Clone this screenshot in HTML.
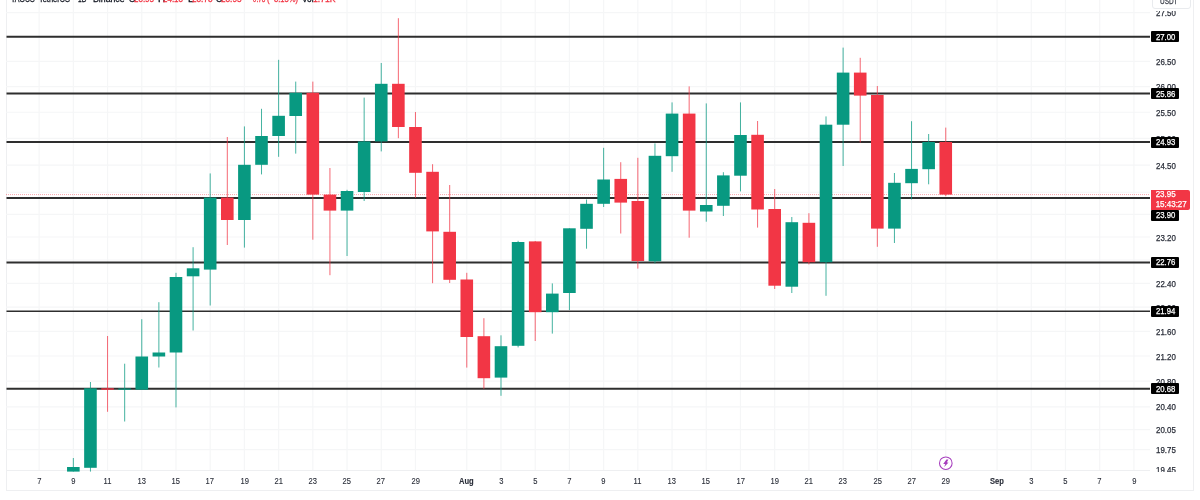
<!DOCTYPE html>
<html><head><meta charset="utf-8">
<style>
html,body{margin:0;padding:0;background:#fff;}
body{width:1200px;height:500px;position:relative;overflow:hidden;font-family:"Liberation Sans",sans-serif;color:#131722;}
#wrap{position:absolute;left:0;top:0;width:1200px;height:500px;will-change:transform;}
#frame{position:absolute;left:6px;top:-10px;width:1188px;height:500.5px;border-left:1px solid #eeeff1;border-right:1px solid #eeeff1;border-bottom:1px solid #eeeff1;box-sizing:border-box;}
#chart{position:absolute;left:0;top:0;}
#taxis{position:absolute;left:6px;top:470.2px;width:1144px;height:1px;background:#eeeff1;}
.pl{position:absolute;left:1156px;width:40px;height:12px;line-height:12px;font-size:8.6px;color:#2a2e39;white-space:nowrap;transform:scaleX(0.92);transform-origin:0 0;-webkit-text-stroke:0.25px currentColor;}
.pb{position:absolute;left:1150.7px;width:28.3px;height:11px;line-height:11px;font-size:8.6px;color:#fff;background:#000;border-radius:1px;white-space:nowrap;}
.pb span{position:absolute;left:5px;top:0.5px;transform:scaleX(0.9);transform-origin:0 0;-webkit-text-stroke:0.25px currentColor;}
#cur{position:absolute;left:1150.7px;top:189.5px;width:39.5px;height:20.2px;background:#f23645;color:#fff;font-size:8.6px;line-height:9.5px;border-radius:0 2px 2px 0;}
#cur div{padding-left:5px;position:relative;top:0.8px;transform:scaleX(0.93);transform-origin:0 0;-webkit-text-stroke:0.25px currentColor;}
#paxclip{position:absolute;left:0;top:0;width:1200px;height:471.6px;overflow:hidden;}
.tl{position:absolute;top:474.5px;width:40px;height:12px;line-height:12px;font-size:8.6px;text-align:center;color:#2a2e39;}
.tl span{display:inline-block;transform:scaleX(0.88);-webkit-text-stroke:0.12px currentColor;}
.tl.b{font-weight:bold;}
#usdt{position:absolute;left:1152.3px;top:-8px;width:38.6px;height:16.5px;border:1px solid #e9ebee;border-radius:3px;background:#fff;box-sizing:border-box;}
#usdt span{position:absolute;left:6.5px;top:2.7px;-webkit-text-stroke:0.25px currentColor;font-size:8.6px;line-height:10px;color:#3a3e48;transform:scaleX(0.75);transform-origin:0 0;}
#umask{position:absolute;left:1150px;top:0;width:43px;height:10.8px;background:#fff;}
.h{position:absolute;top:-5.45px;font-size:9px;line-height:9px;white-space:nowrap;color:#131722;transform-origin:0 0;-webkit-text-stroke:0.3px currentColor;}
.h.r{color:#f23645;}
</style></head><body>
<div id="wrap">
<div id="frame"></div>
<div id="taxis"></div>
<svg id="chart" width="1200" height="472" viewBox="0 0 1200 472">
<line x1="39.13" y1="0" x2="39.13" y2="470" stroke="#f5f6f7" stroke-width="1.2"/>
<line x1="73.34" y1="0" x2="73.34" y2="470" stroke="#f5f6f7" stroke-width="1.2"/>
<line x1="107.56" y1="0" x2="107.56" y2="470" stroke="#f5f6f7" stroke-width="1.2"/>
<line x1="141.77" y1="0" x2="141.77" y2="470" stroke="#f5f6f7" stroke-width="1.2"/>
<line x1="175.98" y1="0" x2="175.98" y2="470" stroke="#f5f6f7" stroke-width="1.2"/>
<line x1="210.19" y1="0" x2="210.19" y2="470" stroke="#f5f6f7" stroke-width="1.2"/>
<line x1="244.40" y1="0" x2="244.40" y2="470" stroke="#f5f6f7" stroke-width="1.2"/>
<line x1="278.62" y1="0" x2="278.62" y2="470" stroke="#f5f6f7" stroke-width="1.2"/>
<line x1="312.83" y1="0" x2="312.83" y2="470" stroke="#f5f6f7" stroke-width="1.2"/>
<line x1="347.04" y1="0" x2="347.04" y2="470" stroke="#f5f6f7" stroke-width="1.2"/>
<line x1="381.25" y1="0" x2="381.25" y2="470" stroke="#f5f6f7" stroke-width="1.2"/>
<line x1="415.46" y1="0" x2="415.46" y2="470" stroke="#f5f6f7" stroke-width="1.2"/>
<line x1="466.78" y1="0" x2="466.78" y2="470" stroke="#f5f6f7" stroke-width="1.2"/>
<line x1="500.99" y1="0" x2="500.99" y2="470" stroke="#f5f6f7" stroke-width="1.2"/>
<line x1="535.21" y1="0" x2="535.21" y2="470" stroke="#f5f6f7" stroke-width="1.2"/>
<line x1="569.42" y1="0" x2="569.42" y2="470" stroke="#f5f6f7" stroke-width="1.2"/>
<line x1="603.63" y1="0" x2="603.63" y2="470" stroke="#f5f6f7" stroke-width="1.2"/>
<line x1="637.84" y1="0" x2="637.84" y2="470" stroke="#f5f6f7" stroke-width="1.2"/>
<line x1="672.05" y1="0" x2="672.05" y2="470" stroke="#f5f6f7" stroke-width="1.2"/>
<line x1="706.27" y1="0" x2="706.27" y2="470" stroke="#f5f6f7" stroke-width="1.2"/>
<line x1="740.48" y1="0" x2="740.48" y2="470" stroke="#f5f6f7" stroke-width="1.2"/>
<line x1="774.69" y1="0" x2="774.69" y2="470" stroke="#f5f6f7" stroke-width="1.2"/>
<line x1="808.90" y1="0" x2="808.90" y2="470" stroke="#f5f6f7" stroke-width="1.2"/>
<line x1="843.11" y1="0" x2="843.11" y2="470" stroke="#f5f6f7" stroke-width="1.2"/>
<line x1="877.33" y1="0" x2="877.33" y2="470" stroke="#f5f6f7" stroke-width="1.2"/>
<line x1="911.54" y1="0" x2="911.54" y2="470" stroke="#f5f6f7" stroke-width="1.2"/>
<line x1="945.75" y1="0" x2="945.75" y2="470" stroke="#f5f6f7" stroke-width="1.2"/>
<line x1="997.07" y1="0" x2="997.07" y2="470" stroke="#f5f6f7" stroke-width="1.2"/>
<line x1="1031.28" y1="0" x2="1031.28" y2="470" stroke="#f5f6f7" stroke-width="1.2"/>
<line x1="1065.49" y1="0" x2="1065.49" y2="470" stroke="#f5f6f7" stroke-width="1.2"/>
<line x1="1099.70" y1="0" x2="1099.70" y2="470" stroke="#f5f6f7" stroke-width="1.2"/>
<line x1="1133.92" y1="0" x2="1133.92" y2="470" stroke="#f5f6f7" stroke-width="1.2"/>
<line x1="6" y1="12.57" x2="1150" y2="12.57" stroke="#f5f6f7" stroke-width="1.2"/>
<line x1="6" y1="36.80" x2="1150" y2="36.80" stroke="#f5f6f7" stroke-width="1.2"/>
<line x1="6" y1="61.47" x2="1150" y2="61.47" stroke="#f5f6f7" stroke-width="1.2"/>
<line x1="6" y1="86.61" x2="1150" y2="86.61" stroke="#f5f6f7" stroke-width="1.2"/>
<line x1="6" y1="112.24" x2="1150" y2="112.24" stroke="#f5f6f7" stroke-width="1.2"/>
<line x1="6" y1="138.38" x2="1150" y2="138.38" stroke="#f5f6f7" stroke-width="1.2"/>
<line x1="6" y1="165.05" x2="1150" y2="165.05" stroke="#f5f6f7" stroke-width="1.2"/>
<line x1="6" y1="192.27" x2="1150" y2="192.27" stroke="#f5f6f7" stroke-width="1.2"/>
<line x1="6" y1="214.45" x2="1150" y2="214.45" stroke="#f5f6f7" stroke-width="1.2"/>
<line x1="6" y1="237.02" x2="1150" y2="237.02" stroke="#f5f6f7" stroke-width="1.2"/>
<line x1="6" y1="259.98" x2="1150" y2="259.98" stroke="#f5f6f7" stroke-width="1.2"/>
<line x1="6" y1="283.34" x2="1150" y2="283.34" stroke="#f5f6f7" stroke-width="1.2"/>
<line x1="6" y1="307.12" x2="1150" y2="307.12" stroke="#f5f6f7" stroke-width="1.2"/>
<line x1="6" y1="331.34" x2="1150" y2="331.34" stroke="#f5f6f7" stroke-width="1.2"/>
<line x1="6" y1="356.02" x2="1150" y2="356.02" stroke="#f5f6f7" stroke-width="1.2"/>
<line x1="6" y1="381.16" x2="1150" y2="381.16" stroke="#f5f6f7" stroke-width="1.2"/>
<line x1="6" y1="406.79" x2="1150" y2="406.79" stroke="#f5f6f7" stroke-width="1.2"/>
<line x1="6" y1="429.64" x2="1150" y2="429.64" stroke="#f5f6f7" stroke-width="1.2"/>
<line x1="6" y1="449.54" x2="1150" y2="449.54" stroke="#f5f6f7" stroke-width="1.2"/>
<line x1="6" y1="194.6" x2="1150" y2="194.6" stroke="#f23645" stroke-width="1" stroke-dasharray="1 1" opacity="0.45"/>
<line x1="6.5" y1="36.8" x2="1150" y2="36.8" stroke="#2e2e2e" stroke-width="2.0"/>
<line x1="6.5" y1="93.5" x2="1150" y2="93.5" stroke="#2e2e2e" stroke-width="2.0"/>
<line x1="6.5" y1="142.0" x2="1150" y2="142.0" stroke="#2e2e2e" stroke-width="2.0"/>
<line x1="6.5" y1="198.0" x2="1150" y2="198.0" stroke="#2e2e2e" stroke-width="2.0"/>
<line x1="6.5" y1="262.5" x2="1150" y2="262.5" stroke="#2e2e2e" stroke-width="2.0"/>
<line x1="6.5" y1="311.2" x2="1150" y2="311.2" stroke="#2e2e2e" stroke-width="1.5"/>
<line x1="6.5" y1="388.8" x2="1150" y2="388.8" stroke="#2e2e2e" stroke-width="2.0"/>
<rect x="72.84" y="458.0" width="1" height="13.60" fill="#089981" opacity="0.75"/>
<rect x="67.04" y="467.0" width="12.6" height="4.60" fill="#089981"/>
<rect x="89.95" y="382.0" width="1" height="89.60" fill="#089981" opacity="0.75"/>
<rect x="84.15" y="388.3" width="12.6" height="79.50" fill="#089981"/>
<rect x="107.06" y="336.0" width="1" height="75.80" fill="#f23645" opacity="0.75"/>
<rect x="101.26" y="388.3" width="12.6" height="1.40" fill="#f23645"/>
<rect x="124.16" y="363.7" width="1" height="57.80" fill="#089981" opacity="0.75"/>
<rect x="118.36" y="388.5" width="12.6" height="1.20" fill="#089981"/>
<rect x="141.27" y="319.2" width="1" height="70.50" fill="#089981" opacity="0.75"/>
<rect x="135.47" y="356.5" width="12.6" height="33.20" fill="#089981"/>
<rect x="158.37" y="302.2" width="1" height="65.30" fill="#089981" opacity="0.75"/>
<rect x="152.57" y="352.5" width="12.6" height="4.00" fill="#089981"/>
<rect x="175.48" y="272.8" width="1" height="134.60" fill="#089981" opacity="0.75"/>
<rect x="169.68" y="277.0" width="12.6" height="75.50" fill="#089981"/>
<rect x="192.59" y="247.2" width="1" height="83.30" fill="#089981" opacity="0.75"/>
<rect x="186.79" y="268.3" width="12.6" height="8.00" fill="#089981"/>
<rect x="209.69" y="173.4" width="1" height="132.10" fill="#089981" opacity="0.75"/>
<rect x="203.89" y="197.6" width="12.6" height="72.00" fill="#089981"/>
<rect x="226.80" y="137.0" width="1" height="108.00" fill="#f23645" opacity="0.75"/>
<rect x="221.00" y="197.6" width="12.6" height="22.40" fill="#f23645"/>
<rect x="243.90" y="126.4" width="1" height="121.20" fill="#089981" opacity="0.75"/>
<rect x="238.10" y="164.8" width="12.6" height="55.20" fill="#089981"/>
<rect x="261.01" y="108.8" width="1" height="65.60" fill="#089981" opacity="0.75"/>
<rect x="255.21" y="136.0" width="12.6" height="28.80" fill="#089981"/>
<rect x="278.12" y="59.8" width="1" height="97.00" fill="#089981" opacity="0.75"/>
<rect x="272.32" y="115.8" width="12.6" height="20.20" fill="#089981"/>
<rect x="295.22" y="81.6" width="1" height="72.00" fill="#089981" opacity="0.75"/>
<rect x="289.42" y="92.8" width="12.6" height="23.20" fill="#089981"/>
<rect x="312.33" y="81.6" width="1" height="158.10" fill="#f23645" opacity="0.75"/>
<rect x="306.53" y="92.8" width="12.6" height="101.80" fill="#f23645"/>
<rect x="329.43" y="168.0" width="1" height="107.20" fill="#f23645" opacity="0.75"/>
<rect x="323.63" y="194.6" width="12.6" height="16.00" fill="#f23645"/>
<rect x="346.54" y="189.8" width="1" height="66.20" fill="#089981" opacity="0.75"/>
<rect x="340.74" y="191.0" width="12.6" height="19.60" fill="#089981"/>
<rect x="363.65" y="97.6" width="1" height="103.40" fill="#089981" opacity="0.75"/>
<rect x="357.85" y="141.4" width="12.6" height="50.60" fill="#089981"/>
<rect x="380.75" y="63.0" width="1" height="88.40" fill="#089981" opacity="0.75"/>
<rect x="374.95" y="83.8" width="12.6" height="57.60" fill="#089981"/>
<rect x="397.86" y="18.2" width="1" height="120.00" fill="#f23645" opacity="0.75"/>
<rect x="392.06" y="83.8" width="12.6" height="43.20" fill="#f23645"/>
<rect x="414.96" y="112.0" width="1" height="85.80" fill="#f23645" opacity="0.75"/>
<rect x="409.16" y="127.0" width="12.6" height="45.80" fill="#f23645"/>
<rect x="432.07" y="164.2" width="1" height="119.00" fill="#f23645" opacity="0.75"/>
<rect x="426.27" y="171.8" width="12.6" height="59.60" fill="#f23645"/>
<rect x="449.18" y="185.0" width="1" height="98.00" fill="#f23645" opacity="0.75"/>
<rect x="443.38" y="231.8" width="12.6" height="48.00" fill="#f23645"/>
<rect x="466.28" y="272.8" width="1" height="94.80" fill="#f23645" opacity="0.75"/>
<rect x="460.48" y="279.5" width="12.6" height="57.50" fill="#f23645"/>
<rect x="483.39" y="318.2" width="1" height="70.60" fill="#f23645" opacity="0.75"/>
<rect x="477.59" y="336.2" width="12.6" height="42.00" fill="#f23645"/>
<rect x="500.49" y="335.3" width="1" height="60.50" fill="#089981" opacity="0.75"/>
<rect x="494.69" y="346.2" width="12.6" height="31.40" fill="#089981"/>
<rect x="517.60" y="240.8" width="1" height="106.60" fill="#089981" opacity="0.75"/>
<rect x="511.80" y="242.0" width="12.6" height="103.80" fill="#089981"/>
<rect x="534.71" y="241.0" width="1" height="100.00" fill="#f23645" opacity="0.75"/>
<rect x="528.91" y="241.4" width="12.6" height="70.80" fill="#f23645"/>
<rect x="551.81" y="283.4" width="1" height="50.20" fill="#089981" opacity="0.75"/>
<rect x="546.01" y="293.6" width="12.6" height="18.60" fill="#089981"/>
<rect x="568.92" y="228.3" width="1" height="81.70" fill="#089981" opacity="0.75"/>
<rect x="563.12" y="228.3" width="12.6" height="64.70" fill="#089981"/>
<rect x="586.02" y="199.5" width="1" height="49.20" fill="#089981" opacity="0.75"/>
<rect x="580.22" y="203.8" width="12.6" height="25.00" fill="#089981"/>
<rect x="603.13" y="147.8" width="1" height="59.20" fill="#089981" opacity="0.75"/>
<rect x="597.33" y="179.5" width="12.6" height="24.30" fill="#089981"/>
<rect x="620.24" y="162.2" width="1" height="71.30" fill="#f23645" opacity="0.75"/>
<rect x="614.44" y="178.9" width="12.6" height="23.70" fill="#f23645"/>
<rect x="637.34" y="157.8" width="1" height="110.80" fill="#f23645" opacity="0.75"/>
<rect x="631.54" y="201.0" width="12.6" height="60.00" fill="#f23645"/>
<rect x="654.45" y="143.4" width="1" height="120.00" fill="#089981" opacity="0.75"/>
<rect x="648.65" y="155.8" width="12.6" height="105.50" fill="#089981"/>
<rect x="671.55" y="102.4" width="1" height="69.40" fill="#089981" opacity="0.75"/>
<rect x="665.75" y="113.6" width="12.6" height="42.60" fill="#089981"/>
<rect x="688.66" y="86.4" width="1" height="151.30" fill="#f23645" opacity="0.75"/>
<rect x="682.86" y="113.6" width="12.6" height="97.00" fill="#f23645"/>
<rect x="705.77" y="103.4" width="1" height="118.30" fill="#089981" opacity="0.75"/>
<rect x="699.97" y="205.0" width="12.6" height="6.50" fill="#089981"/>
<rect x="722.87" y="172.2" width="1" height="43.80" fill="#089981" opacity="0.75"/>
<rect x="717.07" y="175.4" width="12.6" height="30.40" fill="#089981"/>
<rect x="739.98" y="102.4" width="1" height="89.00" fill="#089981" opacity="0.75"/>
<rect x="734.18" y="135.0" width="12.6" height="40.70" fill="#089981"/>
<rect x="757.08" y="121.0" width="1" height="106.60" fill="#f23645" opacity="0.75"/>
<rect x="751.28" y="134.8" width="12.6" height="74.70" fill="#f23645"/>
<rect x="774.19" y="189.0" width="1" height="100.00" fill="#f23645" opacity="0.75"/>
<rect x="768.39" y="209.0" width="12.6" height="76.70" fill="#f23645"/>
<rect x="791.30" y="217.0" width="1" height="76.00" fill="#089981" opacity="0.75"/>
<rect x="785.50" y="222.2" width="12.6" height="64.50" fill="#089981"/>
<rect x="808.40" y="213.2" width="1" height="51.20" fill="#f23645" opacity="0.75"/>
<rect x="802.60" y="222.8" width="12.6" height="39.40" fill="#f23645"/>
<rect x="825.51" y="116.4" width="1" height="179.40" fill="#089981" opacity="0.75"/>
<rect x="819.71" y="124.7" width="12.6" height="137.50" fill="#089981"/>
<rect x="842.61" y="47.6" width="1" height="118.40" fill="#089981" opacity="0.75"/>
<rect x="836.81" y="72.6" width="12.6" height="52.10" fill="#089981"/>
<rect x="859.72" y="57.8" width="1" height="84.80" fill="#f23645" opacity="0.75"/>
<rect x="853.92" y="72.6" width="12.6" height="23.00" fill="#f23645"/>
<rect x="876.83" y="86.0" width="1" height="160.80" fill="#f23645" opacity="0.75"/>
<rect x="871.03" y="95.0" width="12.6" height="133.60" fill="#f23645"/>
<rect x="893.93" y="173.0" width="1" height="70.00" fill="#089981" opacity="0.75"/>
<rect x="888.13" y="182.8" width="12.6" height="45.80" fill="#089981"/>
<rect x="911.04" y="121.2" width="1" height="78.20" fill="#089981" opacity="0.75"/>
<rect x="905.24" y="168.9" width="12.6" height="14.30" fill="#089981"/>
<rect x="928.14" y="134.0" width="1" height="50.30" fill="#089981" opacity="0.75"/>
<rect x="922.34" y="142.0" width="12.6" height="27.20" fill="#089981"/>
<rect x="945.25" y="127.6" width="1" height="68.60" fill="#f23645" opacity="0.75"/>
<rect x="939.45" y="142.0" width="12.6" height="52.60" fill="#f23645"/>
<circle cx="945.8" cy="463.2" r="6.3" fill="#fff" stroke="#a63dbd" stroke-width="1.05"/>
<path d="M946.40 459.60 L948.40 459.60 L946.80 462.50 L948.50 462.50 L944.20 467.00 L945.30 463.90 L943.20 463.90 Z" fill="#a63dbd"/>
</svg>
<span class="h" style="left:11.3px;transform:scaleX(0.782)">TAOUS</span>
<span class="h" style="left:38.6px;transform:scaleX(0.825)">TetherUS</span>
<span class="h" style="left:77.6px;transform:scaleX(0.728)">1D</span>
<span class="h" style="left:93.1px;transform:scaleX(0.971)">Binance</span>
<span class="h" style="left:128.6px;transform:scaleX(0.932)">O</span>
<span class="h r" style="left:134.1px;transform:scaleX(0.888)">23.95</span>
<span class="h" style="left:157.6px;transform:scaleX(1.105)">H</span>
<span class="h r" style="left:163.1px;transform:scaleX(0.888)">24.13</span>
<span class="h" style="left:187.6px;transform:scaleX(1.137)">L</span>
<span class="h r" style="left:191.6px;transform:scaleX(0.911)">23.73</span>
<span class="h" style="left:216.1px;transform:scaleX(0.930)">C</span>
<span class="h r" style="left:220.6px;transform:scaleX(0.911)">23.95</span>
<span class="h r" style="left:248.6px;transform:scaleX(0.719)">−0.78</span>
<span class="h r" style="left:267.1px;transform:scaleX(0.842)">(−3.15%)</span>
<span class="h" style="left:301.6px;transform:scaleX(0.922)">Vol</span>
<span class="h r" style="left:312.6px;transform:scaleX(0.959)">1.71K</span>
<div id="paxclip">
<div class="pl" style="top:7.17px">27.50</div>
<div class="pl" style="top:56.07px">26.50</div>
<div class="pl" style="top:81.21px">26.00</div>
<div class="pl" style="top:106.84px">25.50</div>
<div class="pl" style="top:132.98px">25.00</div>
<div class="pl" style="top:159.65px">24.50</div>
<div class="pl" style="top:209.05px">23.60</div>
<div class="pl" style="top:231.62px">23.20</div>
<div class="pl" style="top:277.94px">22.40</div>
<div class="pl" style="top:301.72px">22.00</div>
<div class="pl" style="top:325.94px">21.60</div>
<div class="pl" style="top:350.62px">21.20</div>
<div class="pl" style="top:375.76px">20.80</div>
<div class="pl" style="top:401.39px">20.40</div>
<div class="pl" style="top:424.24px">20.05</div>
<div class="pl" style="top:444.14px">19.75</div>
<div class="pl" style="top:464.34px">19.45</div>
<div class="pb" style="top:31.20px"><span>27.00</span></div>
<div class="pb" style="top:88.00px"><span>25.86</span></div>
<div class="pb" style="top:136.90px"><span>24.93</span></div>
<div class="pb" style="top:209.70px"><span>23.90</span></div>
<div class="pb" style="top:256.90px"><span>22.76</span></div>
<div class="pb" style="top:305.60px"><span>21.94</span></div>
<div class="pb" style="top:383.20px"><span>20.68</span></div>
<div id="cur"><div>23.95</div><div>15:43:27</div></div>
<div id="umask"></div>
<div id="usdt"><span>USDT</span></div>
</div>
<div class="tl" style="left:19.13px"><span>7</span></div>
<div class="tl" style="left:53.34px"><span>9</span></div>
<div class="tl" style="left:87.56px"><span>11</span></div>
<div class="tl" style="left:121.77px"><span>13</span></div>
<div class="tl" style="left:155.98px"><span>15</span></div>
<div class="tl" style="left:190.19px"><span>17</span></div>
<div class="tl" style="left:224.40px"><span>19</span></div>
<div class="tl" style="left:258.62px"><span>21</span></div>
<div class="tl" style="left:292.83px"><span>23</span></div>
<div class="tl" style="left:327.04px"><span>25</span></div>
<div class="tl" style="left:361.25px"><span>27</span></div>
<div class="tl" style="left:395.46px"><span>29</span></div>
<div class="tl b" style="left:446.78px"><span>Aug</span></div>
<div class="tl" style="left:480.99px"><span>3</span></div>
<div class="tl" style="left:515.21px"><span>5</span></div>
<div class="tl" style="left:549.42px"><span>7</span></div>
<div class="tl" style="left:583.63px"><span>9</span></div>
<div class="tl" style="left:617.84px"><span>11</span></div>
<div class="tl" style="left:652.05px"><span>13</span></div>
<div class="tl" style="left:686.27px"><span>15</span></div>
<div class="tl" style="left:720.48px"><span>17</span></div>
<div class="tl" style="left:754.69px"><span>19</span></div>
<div class="tl" style="left:788.90px"><span>21</span></div>
<div class="tl" style="left:823.11px"><span>23</span></div>
<div class="tl" style="left:857.33px"><span>25</span></div>
<div class="tl" style="left:891.54px"><span>27</span></div>
<div class="tl" style="left:925.75px"><span>29</span></div>
<div class="tl b" style="left:977.07px"><span>Sep</span></div>
<div class="tl" style="left:1011.28px"><span>3</span></div>
<div class="tl" style="left:1045.49px"><span>5</span></div>
<div class="tl" style="left:1079.70px"><span>7</span></div>
<div class="tl" style="left:1113.92px"><span>9</span></div>
</div>
</body></html>
